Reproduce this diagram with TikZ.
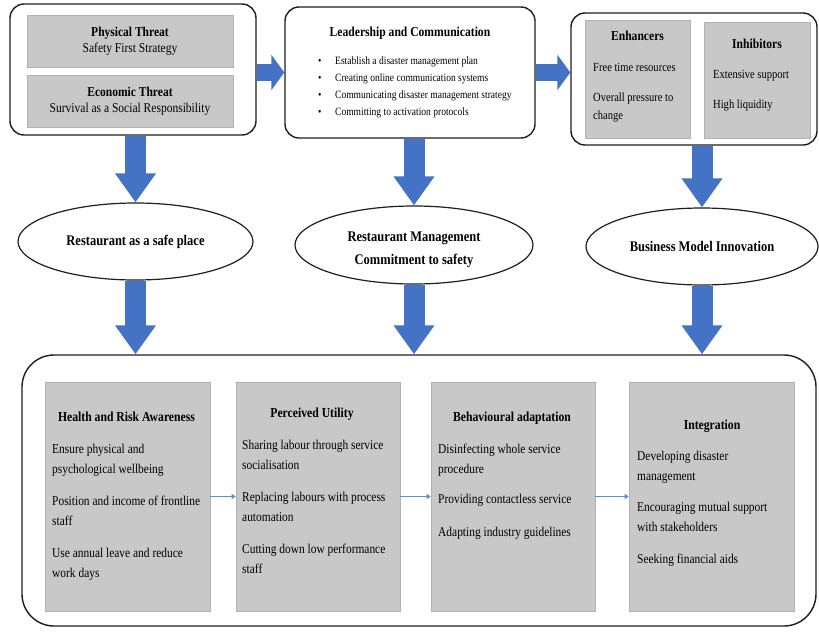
\documentclass[tikz,border=0pt]{standalone}
\usepackage{fontspec}
\setmainfont[FakeStretch=0.85]{Liberation Serif}
\usetikzlibrary{arrows.meta,shapes.geometric}
\definecolor{flowblue}{HTML}{4472C4}
\definecolor{linkblue}{HTML}{5B8FD6}
\definecolor{panelgray}{HTML}{C8C8C8}
\definecolor{paneledge}{HTML}{B2B2B2}
\definecolor{framecol}{HTML}{1E1E1E}
\pgfdeclarelayer{back}
\pgfsetlayers{back,main}
\begin{document}
% multi-line text blocks are anchored at the baseline of their last line
\begin{tikzpicture}[x=1pt,y=-1pt,
  frame/.style={draw=framecol, line width=1.4pt, rounded corners=14pt, fill=white, inner sep=0pt},
  panel/.style={fill=panelgray, draw=paneledge, line width=0.6pt, inner sep=0pt},
  oval/.style={ellipse, draw=framecol, line width=1.2pt, fill=white, inner sep=0pt, align=center,
    font=\fontsize{14.7}{23}\selectfont\bfseries},
  ovaltext/.style={inner sep=0pt, align=center, font=\fontsize{14.7}{23}\selectfont\bfseries},
  harrow/.style={draw=flowblue, line width=17pt, -{Triangle[width=35pt,length=13pt]}},
  varrow/.style={draw=flowblue, line width=21pt, -{Triangle[width=39pt,length=29pt]}},
  link/.style={draw=linkblue, line width=0.8pt, -{Triangle[width=5pt,length=4pt]}},
  coltitle/.style={anchor=base, inner sep=0pt, font=\fontsize{13.75}{16}\selectfont\bfseries},
  colbody/.style={anchor=base west, align=left, inner sep=0pt, font=\fontsize{13.45}{19.5}\selectfont},
  smalltitle/.style={anchor=base, inner sep=0pt, font=\fontsize{13.65}{16}\selectfont\bfseries},
  smallbody/.style={anchor=base west, align=left, inner sep=0pt, font=\fontsize{12.4}{18.5}\selectfont}]
\useasboundingbox (0,0) rectangle (819,632);

% ---- top row: threats, leadership, drivers
\node[frame, minimum width=246pt, minimum height=131pt] (threats) at (133,69.5) {};
\node[panel, minimum width=206pt, minimum height=52pt, align=center,
      font=\fontsize{13.55}{16}\selectfont] (physical) at (130,41)
      {\textbf{Physical Threat}\\Safety First Strategy};
\node[panel, minimum width=206pt, minimum height=52pt, align=center,
      font=\fontsize{13.55}{16}\selectfont] (economic) at (130,101)
      {\textbf{Economic Threat}\\Survival as a Social Responsibility};

\node[frame, minimum width=250pt, minimum height=131pt] (leader) at (410,72.5) {};
\node[smalltitle] (leadtitle) at (410,36) {Leadership and Communication};
\node[anchor=base west, align=left, inner sep=0pt, font=\fontsize{11.2}{17.3}\selectfont] (leadlist) at (318,115.9)
  {\makebox[17pt][l]{\textbullet}Establish a disaster management plan\\
   \makebox[17pt][l]{\textbullet}Creating online communication systems\\
   \makebox[17pt][l]{\textbullet}Communicating disaster management strategy\\
   \makebox[17pt][l]{\textbullet}Committing to activation protocols};

\node[frame, minimum width=246pt, minimum height=132pt] (drivers) at (694,79) {};
\node[panel, minimum width=105pt, minimum height=118pt] (enh) at (637.5,79) {};
\node[panel, minimum width=106pt, minimum height=116pt] (inh) at (757,80) {};
\node[smalltitle] (enhtitle) at (637.5,40.4) {Enhancers};
\node[smallbody] (enhbody) at (593,119.8) {Free time resources\\[11.5pt]Overall pressure to\\change};
\node[smalltitle] (inhtitle) at (757,48.4) {Inhibitors};
\node[smallbody] (inhbody) at (713,108.3) {Extensive support\\[11.5pt]High liquidity};

% ---- middle row: outcomes
\node[oval, minimum width=235pt, minimum height=77pt] (safe) at (135.5,241.5) {Restaurant as a safe place};
\node[oval, minimum width=238pt, minimum height=78pt] (commit) at (414,245) {};
\node[ovaltext] (committext) at (414,250) {Restaurant Management\\Commitment to safety};
\node[oval, minimum width=232pt, minimum height=77pt] (bmi) at (702,246.5) {Business Model Innovation};

% ---- bottom row: process stages
\node[frame, rounded corners=32pt, minimum width=794pt, minimum height=271pt] (stages) at (419,490.5) {};
\node[panel, minimum width=165pt, minimum height=229pt] (hra) at (127.5,496.5) {};
\node[panel, minimum width=164pt, minimum height=229pt] (pu) at (318,496.5) {};
\node[panel, minimum width=164pt, minimum height=229pt] (ba) at (513,496.5) {};
\node[panel, minimum width=165pt, minimum height=229pt] (integ) at (711.5,496.5) {};

\node[coltitle] (hratitle) at (126.5,421) {Health and Risk Awareness};
\node[colbody] (hrabody) at (52,577.1)
  {Ensure physical and\\psychological wellbeing\\[13pt]Position and income of frontline\\staff\\[13pt]Use annual leave and reduce\\work days};
\node[coltitle] (putitle) at (312,417) {Perceived Utility};
\node[colbody] (pubody) at (242,573.1)
  {Sharing labour through service\\socialisation\\[13pt]Replacing labours with process\\automation\\[13pt]Cutting down low performance\\staff};
\node[coltitle] (batitle) at (512,421) {Behavioural adaptation};
\node[colbody] (babody) at (438,536.6)
  {Disinfecting whole service\\procedure\\[11pt]Providing contactless service\\[13.5pt]Adapting industry guidelines};
\node[coltitle] (integtitle) at (712,429) {Integration};
\node[colbody] (integbody) at (637,563.6)
  {Developing disaster\\management\\[12pt]Encouraging mutual support\\with stakeholders\\[13pt]Seeking financial aids};

\draw[link] (hra) -- (pu);
\draw[link] (pu) -- (ba);
\draw[link] (ba) -- (integ);

% ---- block arrows, kept behind the frames
\begin{pgfonlayer}{back}
\draw[harrow] (threats.east |- leader.west) -- (leader.west);
\draw[harrow] (leader.east) -- (drivers.west |- leader.east);
\draw[varrow] (safe.north |- threats.south) -- (safe.north);
\draw[varrow] (commit.north |- leader.south) -- (commit.north);
\draw[varrow] (bmi.north |- drivers.south) -- (bmi.north);
\draw[varrow] (safe.south) -- (safe.south |- stages.north);
\draw[varrow] (commit.south) -- (commit.south |- stages.north);
\draw[varrow] (bmi.south) -- (bmi.south |- stages.north);
\end{pgfonlayer}
\end{tikzpicture}
\end{document}
